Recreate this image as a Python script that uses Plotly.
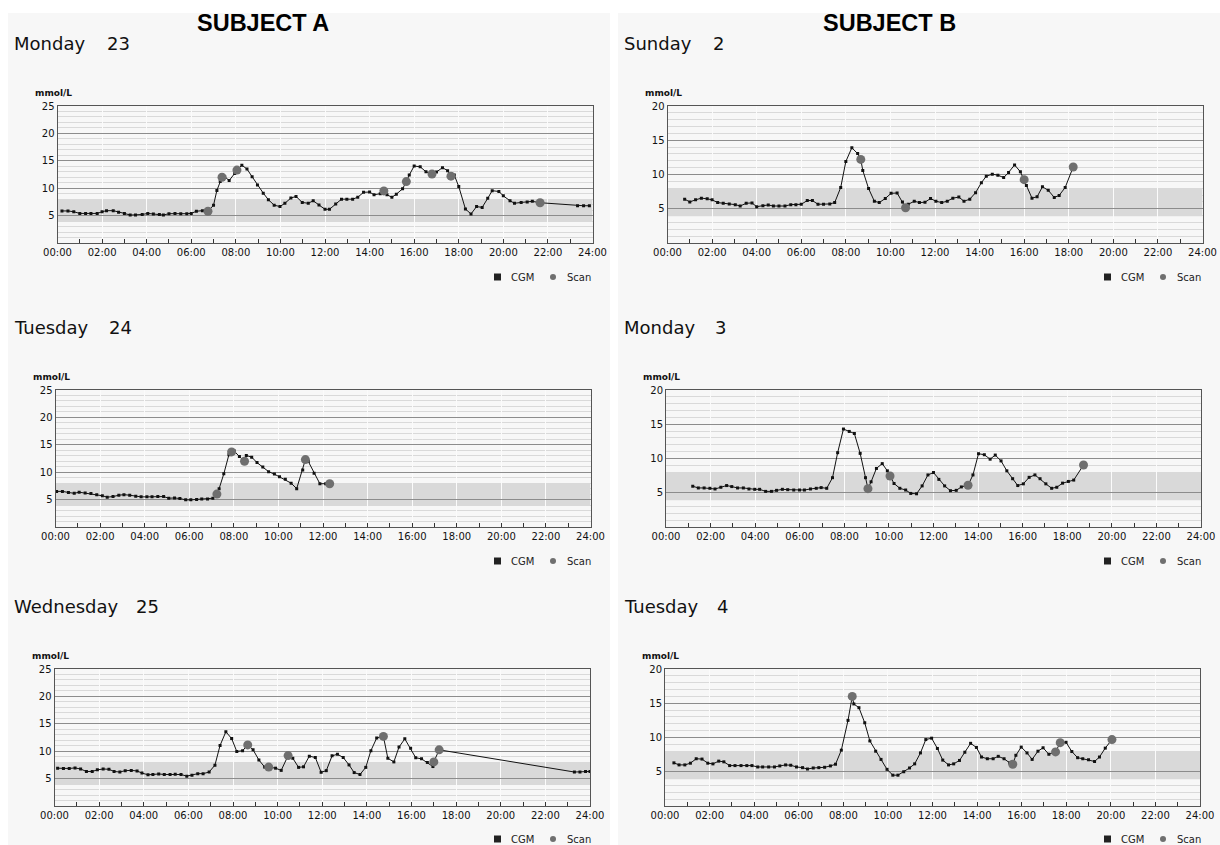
import plotly.graph_objects as go

W, H = 1220, 845

# ---------------- data (hours since midnight, mmol/L) ----------------
A1_cgm_t = [0.2, 0.47, 0.73, 1.0, 1.26, 1.5, 1.78, 2.0, 2.2, 2.5, 2.74, 3.0, 3.26, 3.5, 3.8, 4.05, 4.3, 4.57, 4.75,
            5.0, 5.27, 5.53, 5.8, 6.0, 6.23, 6.5, 7.0, 7.15, 7.3, 7.5, 7.7, 7.95, 8.27, 8.5, 8.73, 8.97, 9.23, 9.46,
            9.72, 9.98, 10.2, 10.47, 10.7, 10.98, 11.25, 11.47, 11.73, 12.0, 12.2, 12.48, 12.74, 12.98, 13.24, 13.47,
            13.73, 14.0, 14.2, 14.48, 14.78, 15.0, 15.2, 15.48, 15.78, 16.0, 16.27, 16.53, 17.0, 17.27, 17.5, 17.8,
            18.0, 18.3, 18.55, 18.8, 19.05, 19.3, 19.5, 19.8, 20.0, 20.3, 20.5, 20.8, 21.07, 21.3, 23.33, 23.6, 23.86]
A1_cgm_v = [5.85, 5.85, 5.7, 5.4, 5.4, 5.4, 5.4, 5.7, 5.9, 5.9, 5.6, 5.4, 5.1, 5.1, 5.2, 5.4, 5.3, 5.2, 5.1,
            5.35, 5.4, 5.35, 5.35, 5.4, 5.8, 5.9, 6.9, 9.6, 11.2, 12.1, 11.4, 12.7, 14.2, 13.5, 12.1, 10.6, 9.1, 7.9,
            6.9, 6.65, 7.25, 8.2, 8.5, 7.4, 7.25, 7.7, 6.95, 6.15, 6.15, 7.1, 8.0, 8.0, 8.0, 8.35,
            9.25, 9.3, 8.8, 9.0, 8.8, 8.35, 8.9, 9.9, 12.4, 14.05, 13.9, 13.0, 12.95, 13.75, 13.2, 12.4,
            10.3, 6.2, 5.3, 6.65, 6.5, 8.15, 9.55, 9.4, 8.6, 7.7, 7.25, 7.4, 7.5, 7.6, 6.8, 6.8, 6.8]
A1_scan_t = [6.75, 7.38, 8.05, 14.64, 15.65, 16.8, 17.65, 21.65]
A1_scan_v = [5.8, 12.0, 13.3, 9.5, 11.2, 12.6, 12.2, 7.35]

B1_cgm_t = [0.77, 1.0, 1.26, 1.52, 1.78, 2.0, 2.25, 2.5, 2.77, 3.04, 3.26, 3.53, 3.79, 4.0, 4.28, 4.52, 4.75, 5.0,
            5.27, 5.53, 5.76, 6.0, 6.27, 6.5, 6.75, 7.0, 7.28, 7.5, 7.77, 8.0, 8.27, 8.53, 8.76, 9.02, 9.28, 9.5,
            9.77, 10.03, 10.3, 10.54, 10.8, 11.07, 11.3, 11.55, 11.8, 12.04, 12.3, 12.55, 12.8, 13.07, 13.3, 13.56,
            13.82, 14.08, 14.3, 14.57, 14.82, 15.08, 15.3, 15.57, 15.83, 16.1, 16.35, 16.58, 16.82, 17.08, 17.35,
            17.57, 17.84]
B1_cgm_v = [6.4, 6.0, 6.3, 6.55, 6.45, 6.3, 5.9, 5.8, 5.7, 5.6, 5.4, 5.8, 5.85, 5.3, 5.45, 5.55, 5.4, 5.4,
            5.4, 5.6, 5.6, 5.65, 6.2, 6.2, 5.65, 5.65, 5.7, 5.9, 8.1, 11.9, 13.9, 13.05, 10.6, 7.95, 6.1, 5.9,
            6.5, 7.25, 7.3, 6.0, 5.65, 6.1, 5.9, 5.95, 6.5, 6.1, 5.9, 6.1, 6.55, 6.7, 6.1, 6.4,
            7.35, 8.8, 9.75, 10.05, 9.9, 9.55, 10.3, 11.4, 10.4, 8.4, 6.55, 6.75, 8.2, 7.7, 6.65,
            6.95, 8.1]
B1_scan_t = [8.67, 10.68, 16.0, 18.2]
B1_scan_v = [12.2, 5.15, 9.25, 11.1]

A2_cgm_t = [0.05, 0.31, 0.58, 0.84, 1.06, 1.33, 1.59, 1.85, 2.1, 2.32, 2.58, 2.84, 3.07, 3.33, 3.6, 3.84, 4.1, 4.33,
            4.59, 4.85, 5.08, 5.34, 5.58, 5.84, 6.07, 6.33, 6.56, 6.82, 7.06, 7.34, 7.55, 7.78, 8.02, 8.25, 8.56,
            8.8, 9.04, 9.3, 9.56, 9.82, 10.05, 10.31, 10.57, 10.82, 11.09, 11.34, 11.6, 11.86, 12.12]
A2_cgm_v = [6.5, 6.5, 6.3, 6.15, 6.35, 6.2, 6.1, 5.9, 5.7, 5.45, 5.55, 5.8, 5.9, 5.8, 5.6, 5.5, 5.5, 5.5,
            5.55, 5.55, 5.25, 5.3, 5.2, 4.95, 4.95, 5.0, 5.1, 5.1, 5.25, 7.0, 9.7, 13.2, 13.85, 12.85, 13.05,
            12.75, 11.75, 10.95, 10.1, 9.65, 9.15, 8.7, 8.0, 7.0, 10.4, 11.95, 9.8, 7.9, 7.9]
A2_scan_t = [7.24, 7.9, 8.48, 11.21, 12.3]
A2_scan_v = [6.0, 13.7, 12.0, 12.3, 7.9]

B2_cgm_t = [1.2, 1.45, 1.71, 1.97, 2.2, 2.46, 2.72, 2.95, 3.21, 3.47, 3.72, 3.98, 4.2, 4.47, 4.73, 4.96, 5.22, 5.46,
            5.73, 5.99, 6.21, 6.48, 6.74, 6.96, 7.21, 7.47, 7.7, 7.96, 8.22, 8.45, 8.71, 8.95, 9.2, 9.44, 9.7,
            9.93, 10.23, 10.49, 10.75, 10.98, 11.24, 11.49, 11.75, 12.0, 12.24, 12.5, 12.76, 13.02, 13.25, 13.77,
            14.02, 14.28, 14.54, 14.77, 15.03, 15.29, 15.55, 15.78, 16.03, 16.29, 16.55, 16.78, 17.04, 17.3,
            17.53, 17.79, 18.05, 18.29]
B2_cgm_v = [5.95, 5.7, 5.7, 5.65, 5.55, 5.8, 6.05, 5.9, 5.7, 5.7, 5.55, 5.5, 5.5, 5.2, 5.2, 5.35, 5.5, 5.45,
            5.4, 5.4, 5.4, 5.55, 5.65, 5.75, 5.65, 7.2, 10.85, 14.3, 13.95, 13.65, 10.75, 7.2, 6.6, 8.55, 9.25,
            8.2, 6.35, 5.65, 5.4, 4.9, 4.85, 6.0, 7.6, 7.95, 6.95, 6.0, 5.3, 5.35, 5.85, 7.6,
            10.7, 10.55, 9.9, 10.5, 9.65, 8.2, 7.05, 6.05, 6.3, 7.25, 7.6, 7.05, 6.3, 5.65,
            5.8, 6.4, 6.65, 6.85]
B2_scan_t = [9.06, 10.05, 13.55, 18.73]
B2_scan_v = [5.6, 7.45, 6.1, 9.05]

A3_cgm_t = [0.14, 0.4, 0.66, 0.92, 1.17, 1.43, 1.69, 1.92, 2.18, 2.44, 2.67, 2.93, 3.17, 3.44, 3.7, 3.92, 4.19, 4.41,
            4.67, 4.92, 5.18, 5.41, 5.67, 5.93, 6.16, 6.42, 6.66, 6.93, 7.19, 7.42, 7.68, 7.94, 8.17, 8.43, 8.9,
            9.16, 9.42, 9.91, 10.16, 10.68, 10.94, 11.16, 11.42, 11.69, 11.95, 12.18, 12.44, 12.68, 12.94, 13.2,
            13.43, 13.69, 13.95, 14.18, 14.44, 14.94, 15.21, 15.44, 15.7, 15.96, 16.19, 16.45, 16.71, 16.96,
            23.3, 23.55, 23.8, 24.0]
A3_cgm_v = [6.9, 6.85, 6.85, 6.95, 6.75, 6.3, 6.3, 6.6, 6.75, 6.7, 6.3, 6.2, 6.45, 6.5, 6.4, 6.0, 5.7, 5.75,
            5.85, 5.75, 5.75, 5.8, 5.75, 5.45, 5.6, 5.9, 5.9, 6.2, 7.45, 11.05, 13.55, 12.3, 9.95, 10.1, 10.25,
            8.4, 7.1, 6.9, 6.5, 8.7, 7.05, 7.15, 9.1, 8.85, 6.15, 6.45, 9.15, 9.45, 8.85, 7.5,
            6.1, 5.75, 7.05, 10.1, 12.4, 8.7, 8.05, 10.75, 12.25, 10.55, 8.8, 8.6, 7.95, 7.2,
            6.2, 6.2, 6.3, 6.3]
A3_scan_t = [8.66, 9.6, 10.47, 14.74, 17.0, 17.24]
A3_scan_v = [11.15, 7.1, 9.2, 12.7, 8.05, 10.25]

B3_cgm_t = [0.4, 0.63, 0.89, 1.14, 1.4, 1.66, 1.92, 2.15, 2.41, 2.64, 2.9, 3.14, 3.41, 3.67, 3.9, 4.16, 4.38, 4.65,
            4.91, 5.15, 5.41, 5.64, 5.9, 6.17, 6.39, 6.65, 6.9, 7.16, 7.42, 7.65, 7.91, 8.21, 8.47, 8.7, 8.96,
            9.19, 9.45, 9.69, 9.96, 10.22, 10.45, 10.71, 10.97, 11.2, 11.46, 11.7, 11.96, 12.22, 12.46, 12.72,
            12.95, 13.21, 13.45, 13.71, 13.97, 14.2, 14.46, 14.72, 14.95, 15.21, 15.46, 15.74, 15.98, 16.24,
            16.47, 16.73, 16.96, 17.22, 17.99, 18.25, 18.51, 18.74, 19.0, 19.27, 19.49, 19.75]
B3_cgm_v = [6.3, 6.0, 6.0, 6.25, 6.9, 6.85, 6.25, 6.15, 6.55, 6.45, 5.9, 5.9, 5.9, 5.9, 5.9, 5.7, 5.7, 5.7,
            5.7, 5.85, 6.0, 5.95, 5.7, 5.6, 5.4, 5.55, 5.6, 5.65, 5.85, 6.1, 8.15, 12.5, 14.9, 14.35, 12.15,
            9.5, 8.0, 6.8, 5.35, 4.5, 4.5, 5.0, 5.55, 6.15, 7.75, 9.7, 9.9, 8.4, 6.7, 6.0,
            6.15, 6.65, 7.85, 9.15, 8.55, 7.15, 6.9, 6.9, 7.25, 6.9, 6.3, 7.4, 8.6, 7.75,
            6.8, 8.0, 8.5, 7.55, 9.3, 7.95, 7.05, 6.9, 6.75, 6.5, 7.15, 8.45]
B3_scan_t = [8.4, 15.6, 17.52, 17.73, 20.05]
B3_scan_v = [16.0, 6.1, 7.9, 9.25, 9.7]

day_names = ["Monday", "Sunday", "Tuesday", "Monday", "Wednesday", "Tuesday"]
day_numbers = ["23", "2", "24", "3", "25", "4"]
subject_titles = ["SUBJECT A", "SUBJECT B"]
y_max = [25, 20, 25, 20, 25, 20]
x_tick_vals = [0, 2, 4, 6, 8, 10, 12, 14, 16, 18, 20, 22, 24]
x_tick_text = ["00:00", "02:00", "04:00", "06:00", "08:00", "10:00", "12:00",
               "14:00", "16:00", "18:00", "20:00", "22:00", "24:00"]
target_low, target_high = 3.9, 8.0
unit_label = "mmol/L"
legend_labels = ["CGM", "Scan"]

panels = [
    (A1_cgm_t, A1_cgm_v, A1_scan_t, A1_scan_v),
    (B1_cgm_t, B1_cgm_v, B1_scan_t, B1_scan_v),
    (A2_cgm_t, A2_cgm_v, A2_scan_t, A2_scan_v),
    (B2_cgm_t, B2_cgm_v, B2_scan_t, B2_scan_v),
    (A3_cgm_t, A3_cgm_v, A3_scan_t, A3_scan_v),
    (B3_cgm_t, B3_cgm_v, B3_scan_t, B3_scan_v),
]

# ---------------- layout geometry (pixels) ----------------
boxes = [
    (57.5, 592.5, 106, 243),
    (667.5, 1202.5, 106, 243),
    (55.5, 590.5, 390, 527),
    (666, 1201, 390, 527),
    (54.5, 590, 669, 806),
    (665, 1200, 669, 806),
]
day_label_y = [43, 43, 327, 327, 606, 606]
unit_y = [93, 93, 377, 377, 656, 656]
legend_y = [277, 277, 561, 561, 839, 839]
col_off = [0, 610, 0, 610, 0, 610]
num_off = [105, 101, 107, 103, 134, 105]

fig = go.Figure()
shapes = []
annotations = []

def px(x):
    return x / W

def py(y):
    return 1 - y / H

# card backgrounds
shapes.append(dict(type="rect", xref="paper", yref="paper", x0=px(8), x1=px(610), y0=0, y1=py(13),
                   fillcolor="#f7f7f7", line=dict(width=0), layer="below"))
shapes.append(dict(type="rect", xref="paper", yref="paper", x0=px(618), x1=1, y0=0, y1=py(13),
                   fillcolor="#f7f7f7", line=dict(width=0), layer="below"))

layout_axes = {}
for i, (ct, cv, st, sv) in enumerate(panels):
    n = i + 1
    xa = "x" if n == 1 else f"x{n}"
    ya = "y" if n == 1 else f"y{n}"
    xkey = "xaxis" if n == 1 else f"xaxis{n}"
    ykey = "yaxis" if n == 1 else f"yaxis{n}"
    l, r, t, b = boxes[i]

    pts = sorted(list(zip(ct, cv)) + list(zip(st, sv)))
    lt = [p[0] for p in pts]
    lv = [p[1] for p in pts]
    fig.add_trace(go.Scatter(x=lt, y=lv, mode="lines", line=dict(color="#111111", width=1),
                             xaxis=xa, yaxis=ya, showlegend=False, hoverinfo="skip"))
    fig.add_trace(go.Scatter(x=ct, y=cv, mode="markers", marker=dict(color="#111111", size=3, symbol="square"),
                             xaxis=xa, yaxis=ya, showlegend=False, name="CGM"))
    fig.add_trace(go.Scatter(x=st, y=sv, mode="markers",
                             marker=dict(color="#6f6f6f", size=9, line=dict(width=0)),
                             xaxis=xa, yaxis=ya, showlegend=False, name="Scan"))

    layout_axes[xkey] = dict(
        domain=[px(l), px(r)], anchor=ya, range=[0, 24], tickmode="array", automargin=False,
        tickvals=x_tick_vals, ticktext=x_tick_text, showgrid=True, gridcolor="#fbfbfb", gridwidth=1,
        zeroline=False, showline=True, linecolor="#555555", linewidth=1, mirror=True,
        ticks="inside", ticklen=4, tickcolor="#333333",
        minor=dict(dtick=1, tick0=0, ticks="inside", ticklen=4, tickcolor="#333333", showgrid=False),
        tickfont=dict(family="DejaVu Sans", size=10, color="#111111"), fixedrange=True,
    )
    layout_axes[ykey] = dict(
        domain=[py(b), py(t)], anchor=xa, range=[0, y_max[i]], tickmode="array", automargin=False,
        tickvals=list(range(5, y_max[i] + 1, 5)), showgrid=True, gridcolor="#8c8c8c", gridwidth=1,
        zeroline=False, showline=True, linecolor="#555555", linewidth=1, mirror=True, ticks="",
        minor=dict(dtick=1, tick0=0, showgrid=True, gridcolor="#d9d9d9", gridwidth=1.2),
        tickfont=dict(family="DejaVu Sans", size=10, color="#111111"), fixedrange=True,
    )

    shapes.append(dict(type="rect", xref=xa, yref=ya, x0=0, x1=24, y0=target_low, y1=target_high,
                       fillcolor="rgba(0,0,0,0.12)", line=dict(width=0), layer="below"))

    off = col_off[i]
    annotations.append(dict(text=day_names[i], x=px(off + 12), y=py(day_label_y[i]), xref="paper", yref="paper",
                            xanchor="left", yanchor="middle", showarrow=False,
                            font=dict(family="DejaVu Sans", size=18, color="#111111")))
    annotations.append(dict(text=day_numbers[i], x=px(off + num_off[i]), y=py(day_label_y[i]), xref="paper",
                            yref="paper", xanchor="left", yanchor="middle", showarrow=False,
                            font=dict(family="DejaVu Sans", size=18, color="#111111")))
    annotations.append(dict(text=f"<b>{unit_label}</b>", x=px(l - 25), y=py(unit_y[i]), xref="paper",
                            yref="paper", xanchor="left", yanchor="middle", showarrow=False,
                            font=dict(family="DejaVu Sans", size=9, color="#111111")))
    ly = legend_y[i]
    shapes.append(dict(type="rect", xref="paper", yref="paper", x0=px(off + 494), x1=px(off + 501),
                       y0=py(ly + 3.5), y1=py(ly - 3.5), fillcolor="#222222", line=dict(width=0)))
    annotations.append(dict(text=legend_labels[0], x=px(off + 509), y=py(ly), xref="paper", yref="paper",
                            xanchor="left", yanchor="middle", showarrow=False,
                            font=dict(family="DejaVu Sans", size=10, color="#222222")))
    shapes.append(dict(type="circle", xref="paper", yref="paper", x0=px(off + 550), x1=px(off + 556),
                       y0=py(ly + 3), y1=py(ly - 3), fillcolor="#6f6f6f", line=dict(width=0)))
    annotations.append(dict(text=legend_labels[1], x=px(off + 565), y=py(ly), xref="paper", yref="paper",
                            xanchor="left", yanchor="middle", showarrow=False,
                            font=dict(family="DejaVu Sans", size=10, color="#222222")))

annotations.append(dict(text=f"<b>{subject_titles[0]}</b>", x=px(263), y=py(23), xref="paper", yref="paper",
                        xanchor="center", yanchor="middle", showarrow=False,
                        font=dict(family="Liberation Sans", size=23.5, color="#000000")))
annotations.append(dict(text=f"<b>{subject_titles[1]}</b>", x=px(889), y=py(23), xref="paper", yref="paper",
                        xanchor="center", yanchor="middle", showarrow=False,
                        font=dict(family="Liberation Sans", size=23.5, color="#000000")))

fig.update_layout(
    width=W, height=H, margin=dict(l=0, r=0, t=0, b=0, autoexpand=False),
    paper_bgcolor="#ffffff", plot_bgcolor="#f3f3f3",
    shapes=shapes, annotations=annotations, showlegend=False,
    **layout_axes,
)

fig.write_html("out.html", config={"displayModeBar": False},
               post_script="document.body.style.margin='0px';document.body.style.overflow='hidden';")
